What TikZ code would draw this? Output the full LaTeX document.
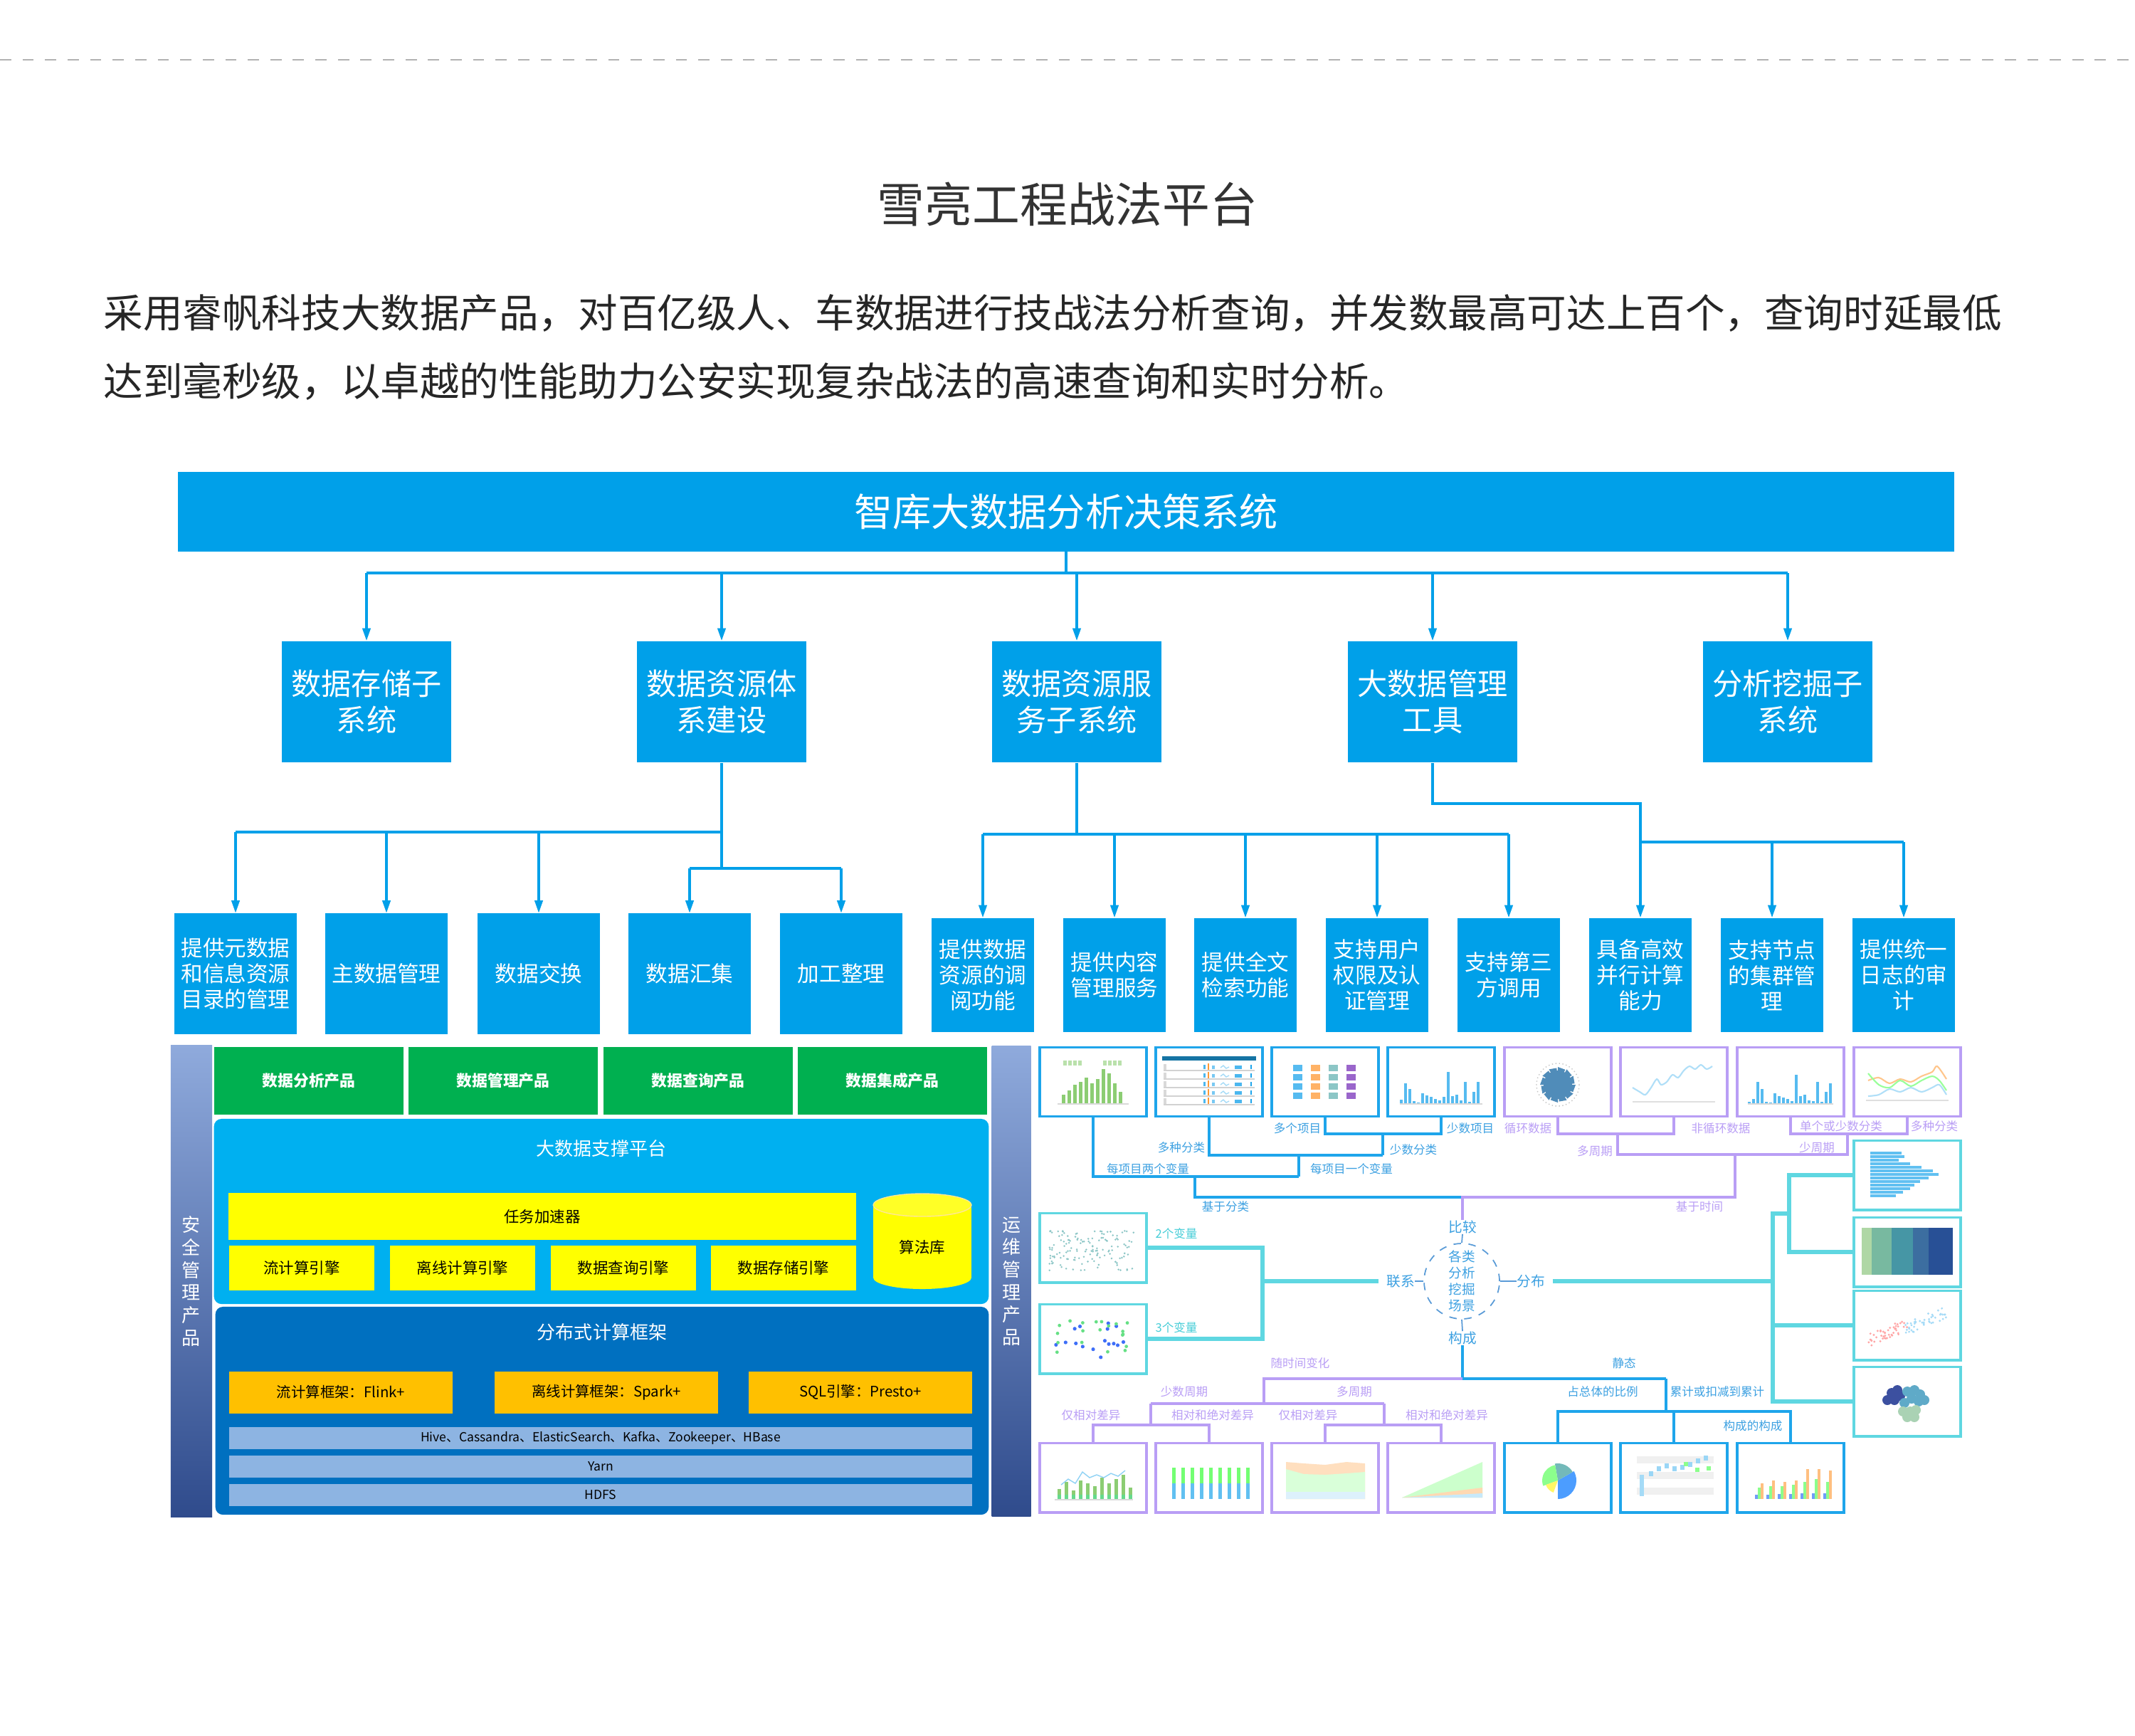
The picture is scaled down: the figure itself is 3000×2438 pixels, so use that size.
\documentclass[tikz,border=0pt]{standalone}
\usepackage{fontspec}
\setmainfont{Noto Sans CJK SC}
\XeTeXlinebreaklocale "zh"
\usetikzlibrary{arrows.meta, positioning, calc}

\definecolor{zkblue}{RGB}{0,160,233}
\definecolor{prodgreen}{RGB}{0,176,80}
\definecolor{platblue}{RGB}{0,176,240}
\definecolor{distblue}{RGB}{0,112,192}
\definecolor{hadoop}{RGB}{141,180,226}
\definecolor{accyellow}{RGB}{255,255,0}
\definecolor{fworange}{RGB}{255,192,0}
\definecolor{sidetop}{RGB}{143,170,220}
\definecolor{sidebot}{RGB}{47,75,140}
\definecolor{chblue}{RGB}{30,165,235}
\definecolor{chpurple}{RGB}{185,158,245}
\definecolor{chcyan}{RGB}{95,215,225}
\definecolor{lblblue}{RGB}{60,160,225}
\definecolor{lblcyan}{RGB}{70,205,215}
\definecolor{corecol}{RGB}{90,155,215}
\definecolor{chgreen}{RGB}{140,205,115}
\definecolor{steel}{RGB}{80,140,185}
\definecolor{hmA}{RGB}{175,215,165}
\definecolor{hmB}{RGB}{120,185,160}
\definecolor{hmC}{RGB}{70,150,165}
\definecolor{hmD}{RGB}{60,110,160}
\definecolor{hmE}{RGB}{40,80,150}
\definecolor{hexA}{RGB}{60,80,160}
\definecolor{hexB}{RGB}{95,170,200}
\definecolor{hexC}{RGB}{170,210,180}

\begin{document}
\begin{tikzpicture}[
    x=0.01cm, y=-0.01cm,
    every node/.style={inner sep=0pt},
    sysbox/.style={
        fill=zkblue,
        text=white,
        align=center,
        minimum width=2.37cm,
        minimum height=1.70cm,
        font=\fontsize{12}{14.5}\selectfont
    },
    subbox/.style={
        fill=zkblue,
        text=white,
        align=center,
        minimum width=1.72cm,
        minimum height=1.69cm,
        font=\fontsize{8.7}{10.2}\selectfont
    },
    subboxn/.style={subbox, minimum width=1.44cm, minimum height=1.60cm},
    link/.style={draw=zkblue, line width=0.9pt},
    arr/.style={link, -{Triangle[length=5pt, width=3.2pt]}},
    sidebar/.style={
        top color=sidetop,
        bottom color=sidebot,
        text=white,
        align=center,
        font=\fontsize{7.4}{9}\selectfont
    },
    prod/.style={
        fill=prodgreen,
        text=white,
        minimum width=2.66cm,
        minimum height=0.95cm,
        font=\fontsize{6.2}{7}\selectfont\bfseries
    },
    paneltitle/.style={text=white, font=\fontsize{7.4}{8}\selectfont},
    engine/.style={
        fill=accyellow,
        minimum width=2.04cm,
        minimum height=0.63cm,
        font=\fontsize{6.1}{7}\selectfont
    },
    frame/.style={
        fill=fworange,
        minimum width=3.14cm,
        minimum height=0.59cm,
        font=\fontsize{5.8}{7}\selectfont
    },
    layer/.style={
        fill=hadoop,
        minimum width=10.43cm,
        minimum height=0.31cm,
        font=\fontsize{5}{6}\selectfont
    },
    thumb/.style={
        draw=#1,
        line width=1.1pt,
        fill=white,
        minimum width=1.50cm,
        minimum height=0.97cm
    },
    bline/.style={draw=chblue, line width=1pt},
    pline/.style={draw=chpurple, line width=1pt},
    cline/.style={draw=chcyan, line width=1.6pt},
    lbl/.style={font=\fontsize{4.7}{5.5}\selectfont},
    lblb/.style={lbl, text=lblblue},
    lblp/.style={lbl, text=chpurple},
    lblc/.style={lbl, text=lblcyan},
    keyw/.style={font=\fontsize{5.6}{6.5}\selectfont, text=lblblue}
]

\useasboundingbox (0,0) rectangle (3000,2438);

% ============================================================
% CABEÇALHO
% ============================================================

\draw[gray!60, line width=0.8pt, dash pattern=on 4.5pt off 4.5pt] (0,84) -- (3000,84);

\node[
    font=\fontsize{19}{22}\selectfont,
    text=black!80
] (head) at (1500,287)
{雪亮工程战法平台};

\node[
    anchor=west,
    align=left,
    font=\fontsize{15.8}{27.3}\selectfont,
    text=black!85
] (intro) at (145,488)
{采用睿帆科技大数据产品，对百亿级人、车数据进行技战法分析查询，并发数最高可达上百个，查询时延最低\\
达到毫秒级，以卓越的性能助力公安实现复杂战法的高速查询和实时分析。};

% ============================================================
% ÁRVORE DE SISTEMAS
% ============================================================

\node[
    fill=zkblue,
    text=white,
    minimum width=24.95cm,
    minimum height=1.11cm,
    font=\fontsize{15.4}{18}\selectfont
] (zk) at (1498,719)
{智库大数据分析决策系统};

\node[sysbox] (s1) at (515,986)  {数据存储子\\系统};
\node[sysbox] (s2) at (1014,986) {数据资源体\\系建设};
\node[sysbox] (s3) at (1513,986) {数据资源服\\务子系统};
\node[sysbox] (s4) at (2013,986) {大数据管理\\工具};
\node[sysbox] (s5) at (2512,986) {分析挖掘子\\系统};

\node[subbox] (d1) at (331,1368)  {提供元数据\\和信息资源\\目录的管理};
\node[subbox] (d2) at (543,1368)  {主数据管理};
\node[subbox] (d3) at (757,1368)  {数据交换};
\node[subbox] (d4) at (969,1368)  {数据汇集};
\node[subbox] (d5) at (1182,1368) {加工整理};

\node[subboxn] (f1) at (1381,1370) {提供数据\\资源的调\\阅功能};
\node[subboxn] (f2) at (1566,1370) {提供内容\\管理服务};
\node[subboxn] (f3) at (1750,1370) {提供全文\\检索功能};
\node[subboxn] (f4) at (1935,1370) {支持用户\\权限及认\\证管理};
\node[subboxn] (f5) at (2120,1370) {支持第三\\方调用};
\node[subboxn] (f6) at (2305,1370) {具备高效\\并行计算\\能力};
\node[subboxn] (f7) at (2490,1370) {支持节点\\的集群管\\理};
\node[subboxn] (f8) at (2675,1370) {提供统一\\日志的审\\计};

% ligações
\coordinate (busA) at (0,805);
\draw[link] (zk.south) -- (zk.south |- busA);
\draw[link] (s1.north |- busA) -- (s5.north |- busA);
\foreach \n in {1,...,5}
    \draw[arr] (s\n.north |- busA) -- (s\n.north);

\coordinate (busL) at (0,1169);
\coordinate (busM) at (0,1220);
\draw[link] (s2.south) -- (s2.south |- busM);
\draw[link] (d1.north |- busL) -- (s2.south |- busL);
\foreach \n in {1,2,3}
    \draw[arr] (d\n.north |- busL) -- (d\n.north);
\draw[link] (d4.north |- busM) -- (d5.north |- busM);
\foreach \n in {4,5}
    \draw[arr] (d\n.north |- busM) -- (d\n.north);

\coordinate (busR) at (0,1172);
\draw[link] (s3.south) -- (s3.south |- busR);
\draw[link] (f1.north |- busR) -- (f5.north |- busR);
\foreach \n in {1,...,5}
    \draw[arr] (f\n.north |- busR) -- (f\n.north);

\coordinate (busT) at (0,1129);
\coordinate (busU) at (0,1183);
\draw[link] (s4.south) |- (f6.north |- busT) -- (f6.north |- busU);
\draw[link] (f6.north |- busU) -- (f8.north |- busU);
\foreach \n in {6,7,8}
    \draw[arr] (f\n.north |- busU) -- (f\n.north);

% ============================================================
% ARQUITETURA DA PLATAFORMA
% ============================================================

\node[sidebar, minimum width=0.58cm, minimum height=6.63cm] (sec) at (269,1800)
{安\\全\\管\\理\\产\\品};
\node[sidebar, minimum width=0.55cm, minimum height=6.61cm] (ops) at (1421,1800)
{运\\维\\管\\理\\产\\品};

\node[prod] (g1) at (434,1518)  {数据分析产品};
\node[prod] (g2) at (707,1518)  {数据管理产品};
\node[prod] (g3) at (981,1518)  {数据查询产品};
\node[prod] (g4) at (1254,1518) {数据集成产品};

\node[
    fill=platblue,
    rounded corners=3pt,
    minimum width=10.88cm,
    minimum height=2.60cm
] (plat) at (845,1702) {};
\node[paneltitle] (platT) at (845,1614) {大数据支撑平台};

\node[engine, minimum width=8.81cm, minimum height=0.66cm] (acc) at (762,1709) {任务加速器};
\node[engine] (e1) at (424,1781)  {流计算引擎};
\node[engine] (e2) at (650,1781)  {离线计算引擎};
\node[engine] (e3) at (876,1781)  {数据查询引擎};
\node[engine] (e4) at (1101,1781) {数据存储引擎};

% cilindro
\fill[accyellow] (1296,1795) ellipse [x radius=69, y radius=16];
\fill[accyellow] (1227,1693) rectangle (1365,1795);
\fill[accyellow!85!white] (1296,1693) ellipse [x radius=69, y radius=16];
\draw[yellow!60!orange!40, line width=0.4pt] (1296,1693) ellipse [x radius=69, y radius=16];
\node[font=\fontsize{6.1}{7}\selectfont] (lib) at (1296,1752) {算法库};

\node[
    fill=distblue,
    rounded corners=3pt,
    minimum width=10.86cm,
    minimum height=2.92cm
] (fwpanel) at (846,1982) {};
\node[paneltitle] (fwT) at (846,1872) {分布式计算框架};

\node[frame] (o1) at (479,1956)  {流计算框架：Flink+};
\node[frame] (o2) at (852,1956)  {离线计算框架：Spark+};
\node[frame] (o3) at (1209,1956) {SQL引擎：Presto+};

\node[layer] (h1) at (844,2020) {Hive、Cassandra、ElasticSearch、Kafka、Zookeeper、HBase};
\node[layer] (h2) at (844,2060) {Yarn};
\node[layer] (h3) at (844,2100) {HDFS};

% ============================================================
% ESCOLHA DE GRÁFICOS
% ============================================================

\node[thumb=chblue]   (t1) at (1536,1520) {};
\node[thumb=chblue]   (t2) at (1699,1520) {};
\node[thumb=chblue]   (t3) at (1862,1520) {};
\node[thumb=chblue]   (t4) at (2025,1520) {};
\node[thumb=chpurple] (t5) at (2189,1520) {};
\node[thumb=chpurple] (t6) at (2352,1520) {};
\node[thumb=chpurple] (t7) at (2516,1520) {};
\node[thumb=chpurple] (t8) at (2680,1520) {};

\node[thumb=chcyan] (r1) at (2680,1651) {};
\node[thumb=chcyan] (r2) at (2680,1759) {};
\node[thumb=chcyan] (r3) at (2680,1862) {};
\node[thumb=chcyan] (r4) at (2680,1969) {};

\node[thumb=chcyan] (l1) at (1536,1753) {};
\node[thumb=chcyan] (l2) at (1536,1881) {};

\node[thumb=chpurple] (b1) at (1536,2076) {};
\node[thumb=chpurple] (b2) at (1699,2076) {};
\node[thumb=chpurple] (b3) at (1862,2076) {};
\node[thumb=chpurple] (b4) at (2025,2076) {};
\node[thumb=chblue]   (b5) at (2189,2076) {};
\node[thumb=chblue]   (b6) at (2352,2076) {};
\node[thumb=chblue]   (b7) at (2516,2076) {};

% centro
\node[
    circle,
    draw=corecol,
    dashed,
    line width=0.5pt,
    minimum size=1.06cm,
    align=center,
    text=lblblue,
    font=\fontsize{5.3}{6.5}\selectfont
] (core) at (2054,1800)
{各类\\分析\\挖掘\\场景};

\node[keyw] (cmp)  at (2055,1724) {比较};
\node[keyw] (com)  at (2055,1880) {构成};
\node[keyw] (rel)  at (1968,1800) {联系};
\node[keyw] (dis)  at (2151,1800) {分布};

\draw[corecol, line width=0.5pt] (cmp.south) -- (core.north);
\draw[corecol, line width=0.5pt] (com.north) -- (core.south);
\draw[corecol, line width=0.5pt] (rel.east) -- (core.west);
\draw[corecol, line width=0.5pt] (dis.west) -- (core.east);

% rótulos
\node[lblb] (lbManyItems) at (1823,1585) {多个项目};
\node[lblb] (lbFewItems)  at (2066,1585) {少数项目};
\node[lblb] (lbManyCat)   at (1660,1612) {多种分类};
\node[lblb] (lbFewCat)    at (1986,1615) {少数分类};
\node[lblb] (lbTwoVar)    at (1613,1642) {每项目两个变量};
\node[lblb] (lbOneVar)    at (1899,1642) {每项目一个变量};
\node[lblb] (lbByCat)     at (1722,1695) {基于分类};

\node[lblp] (lbCyc)       at (2147,1585) {循环数据};
\node[lblp] (lbNonCyc)    at (2418,1585) {非循环数据};
\node[lblp] (lbFewCls)    at (2587,1582) {单个或少数分类};
\node[lblp] (lbManyCls)   at (2718,1582) {多种分类};
\node[lblp] (lbManyPer)   at (2241,1617) {多周期};
\node[lblp] (lbFewPer)    at (2553,1612) {少周期};
\node[lblp] (lbByTime)    at (2388,1695) {基于时间};

\node[lblc] (lbVar2) at (1653,1733) {2个变量};
\node[lblc] (lbVar3) at (1653,1865) {3个变量};

\node[lblp] (lbOverTime)  at (1827,1915) {随时间变化};
\node[lblp] (lbFewPerB)   at (1664,1955) {少数周期};
\node[lblp] (lbManyPerB)  at (1903,1955) {多周期};
\node[lblp] (lbRelA)      at (1533,1988) {仅相对差异};
\node[lblp] (lbAbsA)      at (1704,1988) {相对和绝对差异};
\node[lblp] (lbRelB)      at (1838,1988) {仅相对差异};
\node[lblp] (lbAbsB)      at (2033,1988) {相对和绝对差异};

\node[lblb] (lbStatic)    at (2282,1915) {静态};
\node[lblb] (lbShare)     at (2252,1955) {占总体的比例};
\node[lblb] (lbCumul)     at (2413,1955) {累计或扣减到累计};
\node[lblb] (lbSub)       at (2463,2003) {构成的构成};

% ligações: comparação por categoria
\coordinate (j34)   at (1943,1593);
\coordinate (j234)  at (1943,1623);
\coordinate (j1234) at (1825,1653);
\coordinate (jcls)  at (1679,1682);
\coordinate (jcmp)  at (2055,1682);
\draw[bline] (t3.south) |- (j34) -| (t4.south);
\draw[bline] (j34) -- (j234);
\draw[bline] (t2.south) |- (j234);
\draw[bline] (j234 -| j1234) -- (j1234);
\draw[bline] (t1.south) |- (j1234);
\draw[bline] (jcls |- j1234) -- (jcls) -- (jcmp);

% ligações: comparação por tempo
\coordinate (j56)  at (2273,1593);
\coordinate (j78)  at (2596,1593);
\coordinate (jper) at (2438,1622);
\draw[pline] (t5.south) |- (j56) -| (t6.south);
\draw[pline] (t7.south) |- (j78) -| (t8.south);
\draw[pline] (j56) |- (jper) -| (j78);
\draw[pline] (jper) |- (jcmp) -- (cmp.north);

% ligações: relação
\coordinate (jrel) at (1774,1800);
\draw[cline] (l1.east) -| (jrel);
\draw[cline] (l2.east) -| (jrel) -- ([xshift=-3pt]rel.west);

% ligações: distribuição
\coordinate (jdist) at (2491,1800);
\coordinate (jr12)  at (2514,1705);
\draw[cline] (r1.west) -| (jr12) |- (r2.west);
\draw[cline] ([xshift=3pt]dis.east) -- (jdist);
\draw[cline] (jr12) -- (jr12 -| jdist) |- (r4.west);
\draw[cline] (jdist |- r3.west) -- (r3.west);

% ligações: composição
\coordinate (jcom)  at (2055,1937);
\coordinate (jtime) at (1776,1937);
\coordinate (jstat) at (2341,1937);
\coordinate (jfew)  at (1617,1972);
\coordinate (jmany) at (1945,1972);
\coordinate (jb12)  at (1617,2002);
\coordinate (jb34)  at (1945,2002);
\coordinate (jb567) at (2341,1983);
\draw[bline] (com.south) -- (jcom) -- (jstat);
\draw[pline] (jcom) -- (jtime) -- (jtime |- jfew);
\draw[pline] (jfew) -- (jmany);
\draw[pline] (jfew) -- (jb12);
\draw[pline] (jmany) -- (jb34);
\draw[pline] (b1.north) |- (jb12) -| (b2.north);
\draw[pline] (b3.north) |- (jb34) -| (b4.north);
\draw[bline] (jstat) -- (jb567);
\draw[bline] (b5.north) |- (jb567) -| (b7.north);
\draw[bline] (b6.north) -- (b6.north |- jb567);

% ============================================================
% MINIATURAS
% ============================================================

\begin{scope}[shift={(t1.center)}]
    \foreach \h [count=\i] in {12,18,26,30,36,28,34,48,42,28,16}
        \fill[chgreen] ({-52+\i*8},30) rectangle ++(5,-\h);
    \foreach \i in {0,...,3} {
        \fill[chgreen!60] ({-42+\i*7},-30) rectangle ++(5,7);
        \fill[chgreen!60] ({14+\i*7},-30) rectangle ++(5,7);
    }
    \draw[gray!30] (-50,31) -- (50,31);
\end{scope}

\begin{scope}[shift={(t2.center)}]
    \fill[chblue!70!black] (-66,-36) rectangle (66,-30);
    \foreach \r in {0,...,4} {
        \draw[gray!35] (-64,{-16+\r*12}) -- (64,{-16+\r*12});
        \fill[gray!30] (-64,{-25+\r*12}) rectangle ++(4,8);
        \fill[chblue!80] (-8,{-24+\r*12}) rectangle ++(3,6);
        \fill[orange!80] (-2,{-26+\r*12}) rectangle ++(2,9);
        \fill[chblue!60] (4,{-23+\r*12}) rectangle ++(4,5);
        \draw[chblue!40] (16,{-20+\r*12}) -- ++(4,-3) -- ++(4,4) -- ++(4,-2);
        \fill[chblue!80] (36,{-23+\r*12}) rectangle ++(10,5);
        \fill[chblue] (58,{-24+\r*12}) rectangle ++(2,6);
    }
\end{scope}

\begin{scope}[shift={(t3.center)}]
    \foreach \c [count=\j] in {chblue!75,orange!60,teal!45,blue!55!purple!60}
        \foreach \r in {0,...,3}
            \fill[\c] ({-70+\j*25},{-24+\r*13}) rectangle ++(13,9);
\end{scope}

\begin{scope}[shift={(t4.center)}]
    \foreach \h [count=\i] in {5,28,20,3,1,14,11,9,6,4,9,44,10,12,4,30,2,16,30}
        \fill[chblue!75] ({-64+\i*6},30) rectangle ++(4,-\h);
    \draw[gray!30] (-58,31) -- (58,31);
\end{scope}

\begin{scope}[shift={(t5.center)}]
    \draw[gray!45, densely dotted] (0,4) circle (30);
    \foreach \a in {0,30,...,330}
        \fill[steel] (0,4) -- ++(\a:25) -- ++({\a+110}:11) -- cycle;
    \fill[steel] (0,4) circle (20);
\end{scope}

\begin{scope}[shift={(t6.center)}]
    \draw[gray!25] (-58,28) -- (58,28);
    \draw[chblue!35, line width=0.6pt] plot[smooth] coordinates
        {(-58,8) (-48,14) (-40,18) (-32,8) (-24,-4) (-18,4) (-10,0) (-2,-10)
         (6,-6) (14,-16) (22,-22) (30,-18) (38,-24) (46,-18) (54,-22)};
\end{scope}

\begin{scope}[shift={(t7.center)}]
    \foreach \h [count=\i] in {2,6,30,20,2,1,14,10,8,6,3,40,10,12,4,3,30,2,16,28}
        \fill[chblue!75] ({-66+\i*6},30) rectangle ++(4,-\h);
    \draw[gray!30] (-60,31) -- (60,31);
\end{scope}

\begin{scope}[shift={(t8.center)}]
    \draw[gray!25] (-58,26) -- (58,26);
    \draw[orange!45, line width=0.6pt] plot[smooth] coordinates
        {(-55,-2) (-40,-6) (-25,2) (-10,-4) (5,0) (20,-8) (35,-14) (42,-22) (55,-4)};
    \draw[green!40, line width=0.6pt] plot[smooth] coordinates
        {(-55,-12) (-40,4) (-25,8) (-10,-2) (5,6) (20,-2) (35,-8) (45,-2) (55,12)};
    \draw[chblue!35, line width=0.6pt] plot[smooth] coordinates
        {(-55,20) (-40,18) (-25,10) (-10,14) (5,8) (20,14) (35,8) (45,4) (55,18)};
\end{scope}

\begin{scope}[shift={(r1.center)}]
    \foreach \w [count=\i] in {44,48,40,56,72,88,96,82,70,62,56,46,36}
        \fill[chblue!70] (-52,{-38+\i*5}) rectangle ++(\w,4);
\end{scope}

\begin{scope}[shift={(r2.center)}]
    \fill[hmA] (-64,-34) rectangle (-50,32);
    \fill[hmB] (-50,-34) rectangle (-22,32);
    \fill[hmC] (-22,-34) rectangle (8,32);
    \fill[hmD] (8,-34) rectangle (30,32);
    \fill[hmE] (30,-34) rectangle (64,32);
\end{scope}

\begin{scope}[shift={(r3.center)}]
    \pgfmathsetseed{5}
    \foreach \i in {1,...,45} {
        \pgfmathsetmacro\u{rnd*55-55}
        \pgfmathsetmacro\v{-0.4*\u-10+rnd*18}
        \fill[red!35] (\u,\v) circle (1.6);
    }
    \foreach \i in {1,...,45} {
        \pgfmathsetmacro\u{rnd*60-5}
        \pgfmathsetmacro\v{-0.4*\u-5+rnd*18}
        \fill[chblue!40] (\u,\v) circle (1.6);
    }
\end{scope}

\begin{scope}[shift={(r4.center)}]
    \foreach \x/\y in {-22/-12,-14/-16,-28/-2,-18/-2,-10/-8}
        \fill[hexA] (\x,\y) circle (7);
    \foreach \x/\y in {0/-14,10/-16,18/-10,6/-4,16/0,24/-2,-4/2}
        \fill[hexB] (\x,\y) circle (7);
    \foreach \x/\y in {-6/14,4/14,12/12,0/22,10/22}
        \fill[hexC] (\x,\y) circle (7);
\end{scope}

\begin{scope}[shift={(l1.center)}]
    \pgfmathsetseed{11}
    \foreach \i in {1,...,140}
        \fill[teal!45] ({rnd*120-62},{rnd*56-24}) circle (1.4);
\end{scope}

\begin{scope}[shift={(l2.center)}]
    \pgfmathsetseed{8}
    \foreach \i in {1,...,16}
        \fill[blue!55!chblue!80] ({rnd*110-58},{rnd*54-26}) circle (2.6);
    \foreach \i in {1,...,20}
        \fill[green!60!teal!60] ({rnd*110-58},{rnd*54-26}) circle (2.4);
\end{scope}

\begin{scope}[shift={(b1.center)}]
    \foreach \h [count=\i] in {14,24,12,26,22,18,30,22,28,34,16} {
        \fill[chgreen] ({-60+\i*10},30) rectangle ++(5,-\h);
        \fill[green!50!teal!60] ({-60+\i*10},30) rectangle ++(5,-6);
    }
    \draw[chblue!50, line width=0.4pt] (-45,10) -- (-35,2) -- (-25,8) -- (-15,-8) -- (-5,0)
        -- (5,-4) -- (15,0) -- (25,-6) -- (35,-2) -- (45,-10);
    \draw[gray!30] (-54,31) -- (56,31);
\end{scope}

\begin{scope}[shift={(b2.center)}]
    \foreach \i in {0,...,8} {
        \fill[chblue!70] ({-52+\i*13},30) rectangle ++(5,-22);
        \fill[green!55] ({-52+\i*13},8) rectangle ++(5,-22);
    }
\end{scope}

\begin{scope}[shift={(b3.center)}]
    \fill[orange!25] (-55,-22) -- (-30,-20) -- (0,-18) -- (30,-22) -- (56,-20)
        -- (56,30) -- (-55,30) -- cycle;
    \fill[green!15] (-55,-12) -- (-30,-5) -- (0,-4) -- (30,-6) -- (56,-8)
        -- (56,30) -- (-55,30) -- cycle;
    \fill[chblue!15] (-55,20) -- (56,20) -- (56,30) -- (-55,30) -- cycle;
\end{scope}

\begin{scope}[shift={(b4.center)}]
    \fill[green!20] (-55,28) -- (58,-22) -- (58,28) -- cycle;
    \fill[orange!30] (-55,28) -- (58,14) -- (58,28) -- cycle;
    \fill[chblue!25] (-55,28) -- (58,22) -- (58,28) -- cycle;
\end{scope}

\begin{scope}[shift={(b5.center)}]
    \fill[blue!55!cyan!70] (0,4) -- ++(90:26) arc[start angle=90, end angle=-30, radius=26] -- cycle;
    \fill[teal!55] (0,4) -- ++(-30:24) arc[start angle=-30, end angle=-100, radius=24] -- cycle;
    \fill[green!45] (0,4) -- ++(-100:22) arc[start angle=-100, end angle=-200, radius=22] -- cycle;
    \fill[yellow!60] (0,4) -- ++(-200:18) arc[start angle=-200, end angle=-250, radius=18] -- cycle;
\end{scope}

\begin{scope}[shift={(b6.center)}]
    \fill[gray!12] (-52,-30) rectangle (56,-20);
    \fill[gray!12] (-52,-8) rectangle (56,2);
    \fill[gray!12] (-52,14) rectangle (56,24);
    \fill[chblue!40] (-48,26) rectangle ++(6,-30);
    \foreach \y [count=\i] in {-2,-9,-13,-9,-11,-15,-20,-24}
        \fill[chblue!45] ({-46+\i*11},\y) rectangle ++(6,-7);
    \foreach \y [count=\i] in {-16,-8,-10}
        \fill[green!45] ({-2+\i*16},\y) rectangle ++(6,-6);
\end{scope}

\begin{scope}[shift={(b7.center)}]
    \foreach \a/\b/\c [count=\i] in {6/16/22, 6/18/26, 7/18/24, 7/20/26, 8/24/42, 8/28/42, 8/24/40} {
        \fill[blue!45!chblue!60] ({-66+\i*16},30) rectangle ++(4,-\a);
        \fill[green!45] ({-62+\i*16},30) rectangle ++(4,-\b);
        \fill[orange!50] ({-58+\i*16},30) rectangle ++(4,-\c);
    }
\end{scope}

\end{tikzpicture}
\end{document}
